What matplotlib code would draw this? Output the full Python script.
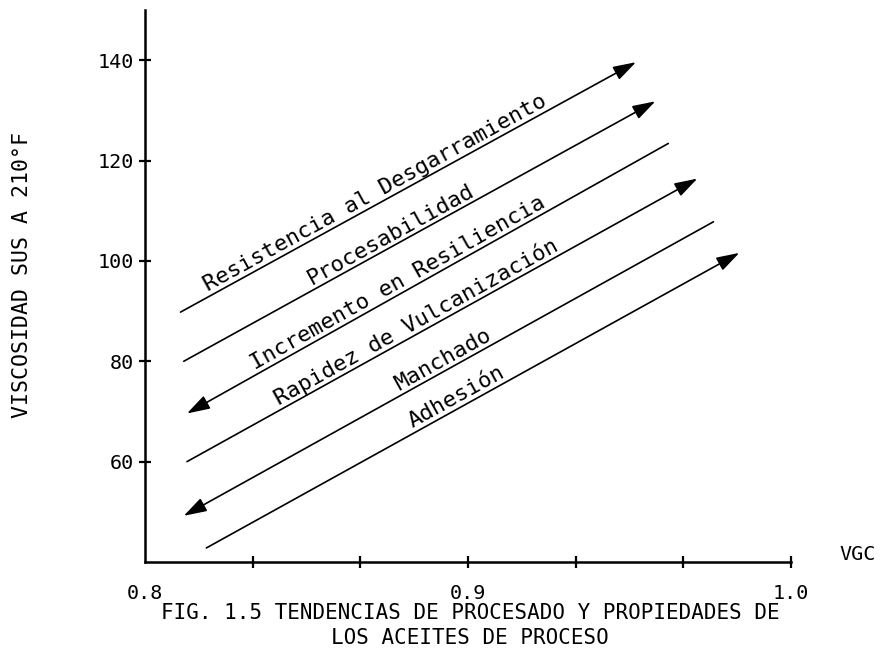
import numpy as np
import matplotlib
matplotlib.use("Agg")
import matplotlib.pyplot as plt
from matplotlib.patches import FancyArrowPatch

plt.rcParams.update({
    "font.family": ["DejaVu Sans Mono", "DejaVu Sans"],
    "axes.linewidth": 1.8,
})

# trend lines: (VGC, viscosity) start and end
LABELS = ["Resistencia al Desgarramiento", "Procesabilidad",
          "Incremento en Resiliencia", "Rapidez de Vulcanización",
          "Manchado", "Adhesión"]
VGC_START = [0.811, 0.812, 0.813, 0.813, 0.812, 0.819]
VISC_START = [89.8, 80.0, 69.6, 60.0, 49.2, 42.8]
VGC_END = [0.952, 0.958, 0.962, 0.971, 0.976, 0.984]
VISC_END = [139.6, 131.8, 123.4, 116.4, 107.8, 101.6]
ARROW_AT = ["end", "end", "start", "end", "start", "end"]

X_TICKS = [0.8, 0.8 + 1/30, 0.8 + 2/30, 0.9, 0.9 + 1/30, 0.9 + 2/30, 1.0]
X_TICKLABELS = ["0.8", "", "", "0.9", "", "", "1.0"]
Y_TICKS = [60, 80, 100, 120, 140]

# where along each line its label sits (fraction of length)
LABEL_AT = [0.44, 0.45, 0.45, 0.46, 0.50, 0.48]

fig = plt.figure(figsize=(8.81, 6.49), dpi=100)
ax = fig.add_axes([145/881, 87/649, 646/881, 552/649])
ax.set_xlim(0.8, 1.0)
ax.set_ylim(40, 150)
for s in ("top", "right"):
    ax.spines[s].set_visible(False)

ax.set_xticks(X_TICKS)
ax.set_xticklabels(X_TICKLABELS)
ax.set_yticks(Y_TICKS)
ax.tick_params(axis="both", direction="inout", length=8, width=1.6,
               labelsize=14.5)
ax.tick_params(axis="x", pad=12)
ax.tick_params(axis="y", pad=4)
ax.xaxis.get_major_ticks()[0].tick1line.set_visible(False)

style_head = "-|>,head_length=0.7,head_width=0.22"
for i, lab in enumerate(LABELS):
    p0 = (VGC_START[i], VISC_START[i])
    p1 = (VGC_END[i], VISC_END[i])
    if ARROW_AT[i] == "start":
        p0, p1 = p1, p0
    arr = FancyArrowPatch(p0, p1, arrowstyle=style_head, mutation_scale=20,
                          lw=1.2, color="black", shrinkA=0, shrinkB=0)
    ax.add_patch(arr)

    # label parallel to the line, just above it
    a = ax.transData.transform((VGC_START[i], VISC_START[i]))
    b = ax.transData.transform((VGC_END[i], VISC_END[i]))
    ang = np.degrees(np.arctan2(b[1] - a[1], b[0] - a[0]))
    t = LABEL_AT[i]
    xm = VGC_START[i] + t * (VGC_END[i] - VGC_START[i])
    ym = VISC_START[i] + t * (VISC_END[i] - VISC_START[i])
    off = 3.5
    r = np.radians(ang)
    ax.annotate(lab, xy=(xm, ym), xytext=(-np.sin(r) * off, np.cos(r) * off),
                textcoords="offset points", rotation=ang,
                rotation_mode="anchor", ha="center", va="baseline",
                fontsize=16)

fig.text(858/881, 1 - 555/649, "VGC", ha="center", va="center", fontsize=14.5)
fig.text(22/881, 1 - 275/649, "VISCOSIDAD SUS A 210°F", rotation=90,
         ha="center", va="center", fontsize=15.5)
fig.text(470/881, 1 - 613/649,
         "FIG. 1.5 TENDENCIAS DE PROCESADO Y PROPIEDADES DE",
         ha="center", va="center", fontsize=15)
fig.text(470/881, 1 - 638/649, "LOS ACEITES DE PROCESO",
         ha="center", va="center", fontsize=15)

fig.savefig("out.png", dpi=100)
